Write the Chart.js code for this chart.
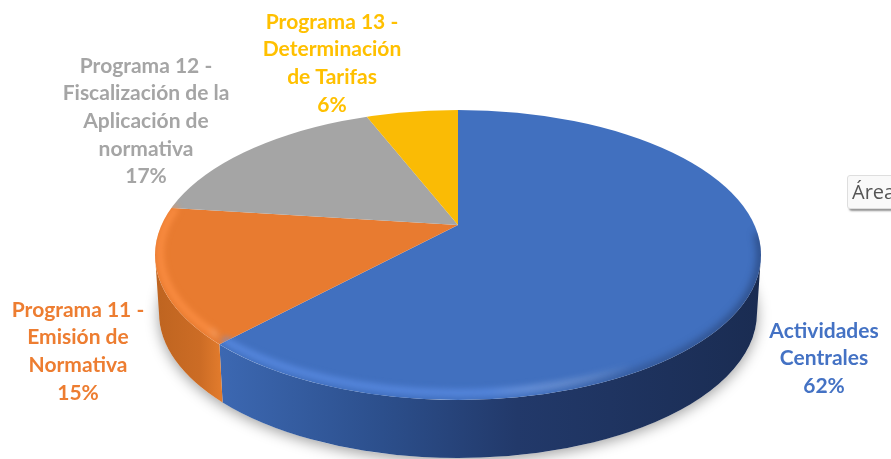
<!DOCTYPE html>
<html lang="es">
<head>
<meta charset="utf-8">
<style>
html,body{margin:0;padding:0;background:#fff;width:891px;height:459px;overflow:hidden}
#wrap{position:relative;width:891px;height:459px;overflow:hidden;filter:blur(.5px)}
canvas{position:absolute;left:0;top:0}
#tip{position:absolute;left:847px;top:175px;width:80px;height:34px;box-sizing:border-box;background:#f9f9f9;border:1px solid #dedede;border-radius:3px;box-shadow:2px 2px 2px rgba(60,60,60,.55);font:20px "Open Sans",sans-serif;color:#555;line-height:31px;padding-left:4px;white-space:nowrap}
</style>
</head>
<body>
<div id="wrap">
<canvas id="c" width="891" height="459"></canvas>
<div id="tip">Área</div>
</div>
<script src="https://cdn.jsdelivr.net/npm/chart.js@4"></script>
<script>
const categories = ["Actividades Centrales","Programa 11 - Emisión de Normativa","Programa 12 - Fiscalización de la Aplicación de normativa","Programa 13 - Determinación de Tarifas"];
const values = [62,15,17,6];
const labelLines = [
  ["Actividades","Centrales"],
  ["Programa 11 -","Emisión de","Normativa"],
  ["Programa 12 -","Fiscalización de la","Aplicación de","normativa"],
  ["Programa 13 -","Determinación","de Tarifas"]
];
const faceColors = ["#4170BF","#E87B30","#A5A5A5","#FABB05"];
const labelColors = ["#4472C4","#ED7D31","#A5A5A5","#FFC000"];
const labelCenters = [[824,331],[78,310],[146,66],[332,22]];
const labelStep = 27.6;
const rimColors = ["rgba(95,145,235,.8)","rgba(255,145,70,.9)"];
const sideStops = [
  [[0,"#3C68B2"],[.3,"#2C4F8C"],[.55,"#22396A"],[1,"#1A2C52"]],
  [[0,"#BE6420"],[.7,"#CC6C25"],[1,"#E07A2C"]]
];
// geometry of the tilted disc
const G = {apexX:458,apexY:225,cx:458,cy:255,rx:303,ry:145,depth:58,bottomRx:299,squash:.47,zoom:1.8};

function rimAngle(a){ // ray from apex at library angle a -> parameter on the rim ellipse
  const dx=Math.cos(a), dy=Math.sin(a)*G.squash;
  const ox=(G.apexX-G.cx)/G.rx, oy=(G.apexY-G.cy)/G.ry, vx=dx/G.rx, vy=dy/G.ry;
  const A=vx*vx+vy*vy, B=2*(ox*vx+oy*vy), C=ox*ox+oy*oy-1;
  const t=(-B+Math.sqrt(B*B-4*A*C))/(2*A);
  let th=Math.atan2(oy+vy*t,ox+vx*t);
  if(th<-Math.PI/2-1e-6) th+=2*Math.PI;
  return th;
}
const disc3d = {
  id:'disc3d',
  beforeDatasetsDraw(chart){
    const ctx=chart.ctx, arcs=chart.getDatasetMeta(0).data;
    // ground shadow
    ctx.save();
    ctx.shadowColor='rgba(0,0,0,.38)';ctx.shadowBlur=14;ctx.shadowOffsetY=3;
    ctx.fillStyle='#fff';
    ctx.beginPath();ctx.ellipse(G.cx,G.cy+G.depth,G.bottomRx,G.ry,0,0,2*Math.PI);ctx.fill();
    ctx.restore();
    // side walls
    arcs.forEach((arc,i)=>{
      let s=rimAngle(arc.startAngle), e=rimAngle(arc.endAngle);
      if(e<s) e+=2*Math.PI;
      s=Math.max(s,0); e=Math.min(e,Math.PI);
      if(e<=s) return;
      const x0=G.cx+G.rx*Math.cos(e), x1=G.cx+G.rx*Math.cos(s);
      const g=ctx.createLinearGradient(x0,0,x1,0);
      sideStops[i].forEach(p=>g.addColorStop(p[0],p[1]));
      ctx.fillStyle=g;
      ctx.beginPath();
      ctx.ellipse(G.cx,G.cy,G.rx,G.ry,0,s,e);
      ctx.ellipse(G.cx,G.cy+G.depth,G.bottomRx,G.ry,0,e,s,true);
      ctx.closePath();ctx.fill();
    });
    // top face: library arcs under an affine tilt, cut to the rim
    const a=arcs[0];
    ctx.save();
    ctx.beginPath();ctx.ellipse(G.cx,G.cy,G.rx,G.ry,0,0,2*Math.PI);ctx.clip();
    ctx.translate(G.apexX,G.apexY);
    ctx.scale(G.zoom,G.zoom*G.squash);
    ctx.translate(-a.x,-a.y);
  },
  afterDatasetsDraw(chart){
    const ctx=chart.ctx, arcs=chart.getDatasetMeta(0).data;
    ctx.restore();
    // soft bevel along the front rim
    ctx.save();
    ctx.beginPath();ctx.ellipse(G.cx,G.cy,G.rx,G.ry,0,0,2*Math.PI);ctx.clip();
    arcs.slice(0,2).forEach((arc,i)=>{
      let s=rimAngle(arc.startAngle), e=rimAngle(arc.endAngle);
      if(e<s) e+=2*Math.PI;
      s=Math.max(s,i?-.35:.95); e=Math.min(e,i?Math.PI+.35:Math.PI);
      const g=ctx.createLinearGradient(G.cx+G.rx*Math.cos(e),0,G.cx+G.rx*Math.cos(s),0);
      g.addColorStop(0,rimColors[i]);g.addColorStop(i?.8:.65,rimColors[i]);g.addColorStop(1,'rgba(255,255,255,0)');
      ctx.filter='blur(3px)';
      ctx.strokeStyle=g;ctx.lineWidth=6;
      ctx.beginPath();ctx.ellipse(G.cx,G.cy-2,G.rx-5,G.ry-5,0,s,e);ctx.stroke();
    });
    ctx.restore();
    // dark soft edge on the right-hand rim
    ctx.save();
    ctx.beginPath();ctx.ellipse(G.cx,G.cy,G.rx,G.ry,0,0,2*Math.PI);ctx.clip();
    ctx.filter='blur(4px)';
    const g2=ctx.createLinearGradient(530,0,760,0);
    g2.addColorStop(0,'rgba(26,44,82,0)');g2.addColorStop(.5,'rgba(26,44,82,.6)');g2.addColorStop(1,'rgba(26,44,82,.85)');
    ctx.strokeStyle=g2;ctx.lineWidth=5;
    ctx.beginPath();ctx.ellipse(G.cx,G.cy,G.rx,G.ry,0,-.15,1.4);ctx.stroke();
    ctx.restore();
    // labels
    ctx.save();
    ctx.font='bold 21px Lato, sans-serif';ctx.textAlign='center';ctx.textBaseline='middle';
    const total=values.reduce((p,v)=>p+v,0);
    values.forEach((v,i)=>{
      ctx.fillStyle=labelColors[i];
      const [x,y]=labelCenters[i];
      const lines=labelLines[i].concat([Math.round(v/total*100)+'%']);
      lines.forEach((t,k)=>ctx.fillText(t,x,y+k*labelStep));
    });
    ctx.restore();
  }
};
new Chart(document.getElementById('c'),{
  type:'pie',
  data:{labels:categories,datasets:[{data:values,backgroundColor:faceColors,borderWidth:0,clip:false}]},
  options:{responsive:false,animation:false,events:[],layout:{padding:0},
    plugins:{legend:{display:false},tooltip:{enabled:false},title:{display:false}}},
  plugins:[disc3d]
});
</script>
</body>
</html>
